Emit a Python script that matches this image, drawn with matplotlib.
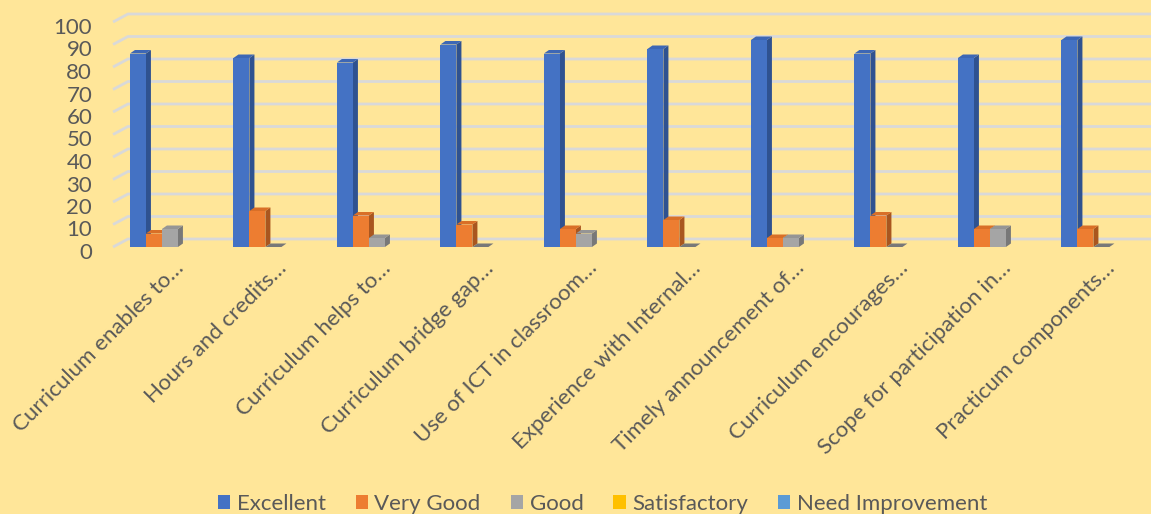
import numpy as np
import matplotlib
matplotlib.use("Agg")
import matplotlib.pyplot as plt
import matplotlib.transforms as mtransforms
from matplotlib.patches import Polygon, Patch

# data (percent of respondents)
categories = [
    "Curriculum enables to\u2026",
    "Hours and credits\u2026",
    "Curriculum helps to\u2026",
    "Curriculum bridge gap\u2026",
    "Use of ICT in classroom\u2026",
    "Experience with Internal\u2026",
    "Timely announcement of\u2026",
    "Curriculum encourages\u2026",
    "Scope for participation in\u2026",
    "Practicum components\u2026",
]
series_names = ["Excellent", "Very Good", "Good", "Satisfactory", "Need Improvement"]
excellent = [86, 84, 82, 90, 86, 88, 92, 86, 84, 92]
very_good = [6, 16, 14, 10, 8, 12, 4, 14, 8, 8]
good = [8, 0, 4, 0, 6, 0, 4, 0, 8, 0]
satisfactory = [0, 0, 0, 0, 0, 0, 0, 0, 0, 0]
need_improvement = [0, 0, 0, 0, 0, 0, 0, 0, 0, 0]
y_ticks = list(range(0, 101, 10))

front_colors = ["#4472C4", "#ED7D31", "#A5A5A5", "#FFC000", "#5B9BD5"]
side_colors = ["#2F5290", "#A9561F", "#787878", "#B88A00", "#3F73A3"]
top_colors = ["#3D67B5", "#D96F27", "#959595", "#E5AD00", "#5290C8"]
bg = "#FFE699"
grid_c = "#D9D9D9"
text_c = "#595959"

W, H = 1151, 514
fig = plt.figure(figsize=(W / 100, H / 100), dpi=100, facecolor=bg)
plt.rcParams["font.family"] = ["Lato", "DejaVu Sans"]

# axes placed in pixels: front floor at y=247, value 100 at y=22
ax_left, ax_right, ax_bottom, ax_top = 113, 1148, 247, 22
ax = fig.add_axes([ax_left / W, (H - ax_bottom) / H,
                   (ax_right - ax_left) / W, (ax_bottom - ax_top) / H])
ax.set_facecolor("none")
x0, x1 = -0.55, 9.45
ax.set_xlim(x0, x1)
ax.set_ylim(0, 100)
px_x = (ax_right - ax_left) / (x1 - x0)   # pixels per x unit
px_y = (ax_bottom - ax_top) / 100.0        # pixels per y unit

# back wall gridlines plus left wall diagonals (fake 3D)
wall_dx, wall_dy = 15 / px_x, 8 / px_y
for v in y_ticks:
    ax.plot([x0, x0 + wall_dx, x1 + 10 / px_x], [v, v + wall_dy, v + wall_dy],
            color=grid_c, lw=2.0, clip_on=False, zorder=1, solid_capstyle="butt")

values = [excellent, very_good, good, satisfactory, need_improvement]
n = len(series_names)
bw = 16 / px_x
bar_dx, bar_dy = 5 / px_x, 3.5 / px_y
xs = np.arange(len(categories))
for k, vals in enumerate(values):
    offs = xs + (k - (n - 1) / 2) * bw
    for xc, v in zip(offs, vals):
        if k >= 3:
            continue
        xl, xr = xc - bw / 2, xc + bw / 2
        if v == 0:
            slab = Polygon([(xl, 0), (xr, 0), (xr + bar_dx, bar_dy), (xl + bar_dx, bar_dy)],
                           closed=True, fc=side_colors[k], ec="none", zorder=3)
            ax.add_patch(slab)
            continue
        ax.add_patch(Polygon([(xr, 0), (xr + bar_dx, bar_dy), (xr + bar_dx, v + bar_dy), (xr, v)],
                             closed=True, fc=side_colors[k], ec="none", zorder=3))
        ax.add_patch(Polygon([(xl, v), (xr, v), (xr + bar_dx, v + bar_dy), (xl + bar_dx, v + bar_dy)],
                             closed=True, fc=top_colors[k], ec="none", zorder=3))
    ax.bar(offs, [v if v > 0 else np.nan for v in vals], width=bw, color=front_colors[k],
           zorder=3, linewidth=0)

for s in ax.spines.values():
    s.set_visible(False)
ax.set_yticks(y_ticks)
ax.tick_params(axis="y", length=0, pad=15, labelsize=16, labelcolor=text_c)
# value labels sit a few pixels below the front scale in the reference
shift = mtransforms.ScaledTranslation(0, -4 / 100, fig.dpi_scale_trans)
for lab in ax.get_yticklabels():
    lab.set_transform(lab.get_transform() + shift)
ax.set_xticks(xs + 0.1)
ax.set_xticklabels(categories, rotation=45, ha="right", va="center",
                   rotation_mode="anchor", fontsize=16, color=text_c)
ax.tick_params(axis="x", length=0, pad=13)

handles = [Patch(facecolor=c, edgecolor="none") for c in front_colors]
fig.legend(handles, series_names, loc="center", bbox_to_anchor=(0.5235, 10 / H), ncol=5,
           frameon=False, fontsize=16, labelcolor=text_c, handlelength=0.55,
           handleheight=0.55, handletextpad=0.3, columnspacing=1.35,
           borderpad=0, borderaxespad=0)

fig.savefig("out.png", dpi=100, facecolor=bg)
